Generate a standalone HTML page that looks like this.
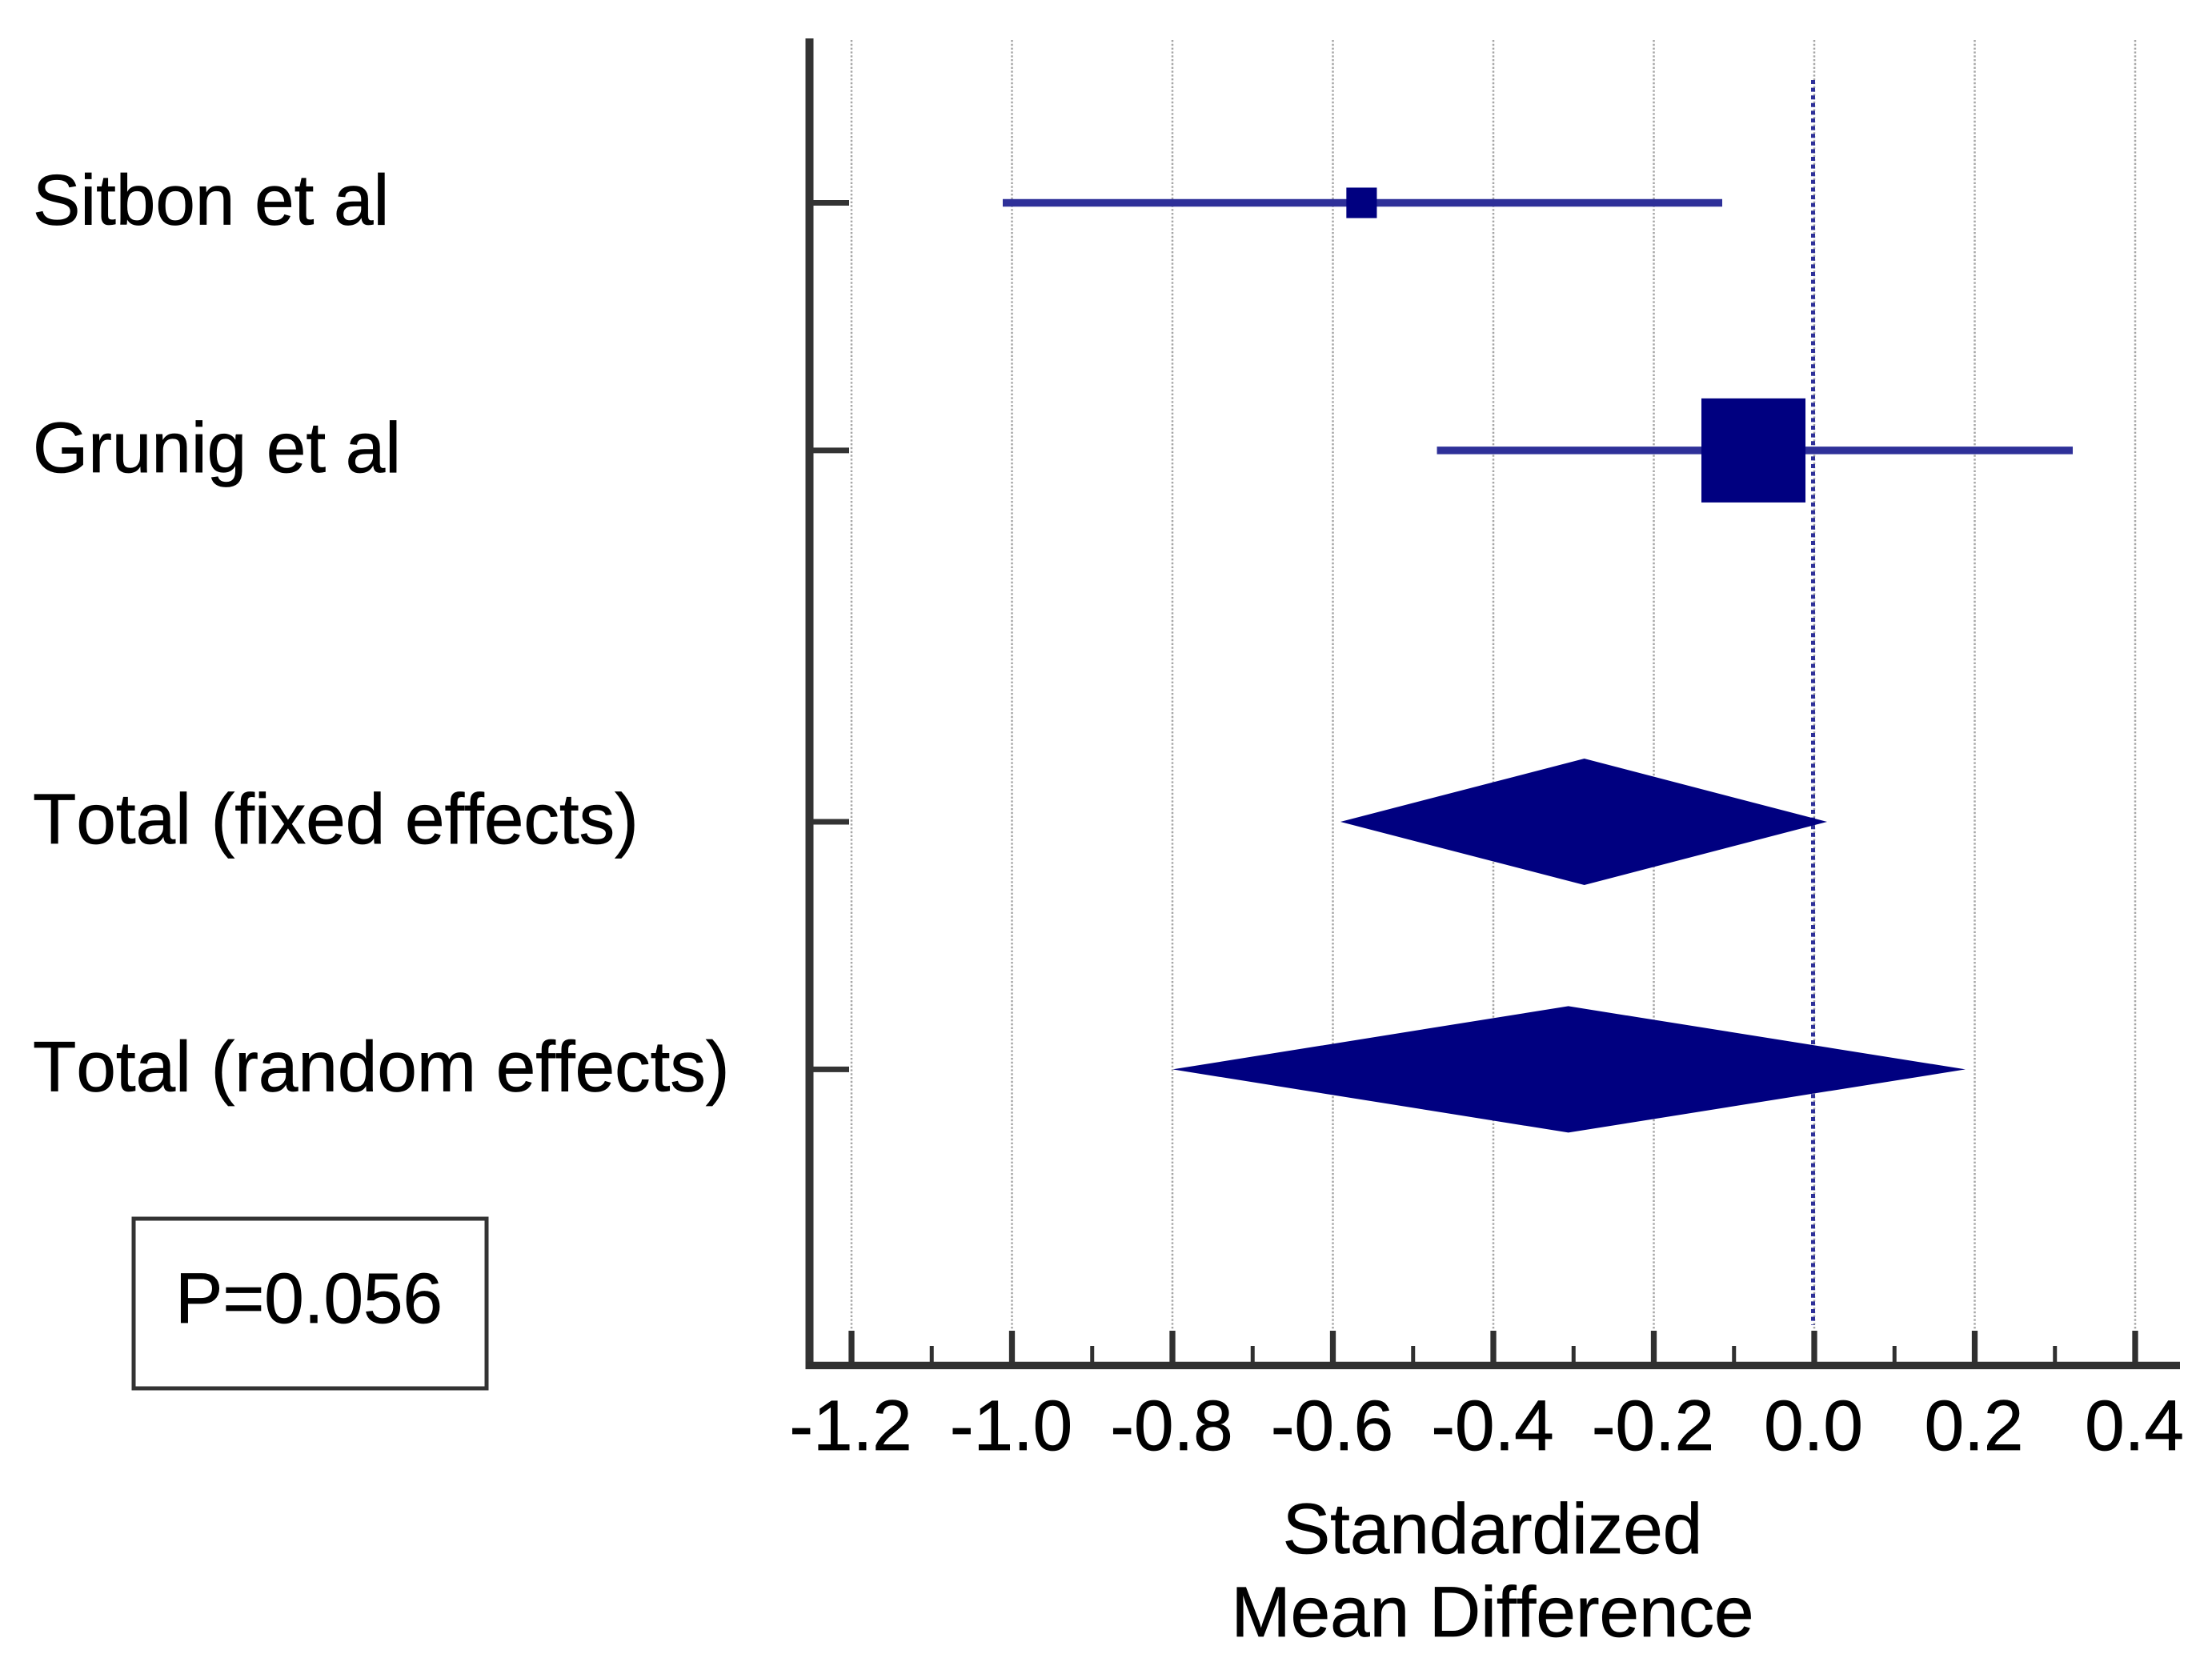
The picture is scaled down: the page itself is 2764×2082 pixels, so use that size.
<!DOCTYPE html>
<html lang="en">
<head>
<meta charset="utf-8">
<title>Forest plot of standardized mean difference</title>
<style>
  html, body { margin: 0; padding: 0; background: #ffffff; }
  body { width: 2764px; height: 2082px; overflow: hidden; }
  svg { display: block; }
  text { font-family: "Liberation Sans", sans-serif; fill: #000000; stroke: #000000; stroke-width: 0.7px; font-size: 89px; font-kerning: none; }
</style>
</head>
<body>
<svg id="chart" xmlns="http://www.w3.org/2000/svg" width="2764" height="2082" viewBox="0 0 2764 2082">
  <rect x="0" y="0" width="2764" height="2082" fill="#ffffff"></rect>
  <g id="grid"></g>
  <g id="marks"></g>
  <g id="axes"></g>
  <g id="labels"></g>
  <g>
    <text x="1865" y="1941" text-anchor="middle">Standardized</text>
    <text x="1865" y="2045" text-anchor="middle">Mean Difference</text>
  </g>
  <g>
    <rect x="167" y="1523" width="441" height="212" fill="#ffffff" stroke="#333333" stroke-width="5"></rect>
    <text x="386" y="1653" text-anchor="middle">P=0.056</text>
  </g>
</svg>
<script>
// Chart data
const studyNames = ["Sitbon et al", "Grunig et al"];
const studyRows = [0, 1];
const studyEffects = [-0.5642, -0.0758];
const studyLower = [-1.0115, -0.4703];
const studyUpper = [-0.1147, 0.3222];
const studyWeights = [7.9, 92.1];

const summaryNames = ["Total (fixed effects)", "Total (random effects)"];
const summaryRows = [2.5, 3.5];
const summaryEffects = [-0.2866, -0.3065];
const summaryLower = [-0.5906, -0.7998];
const summaryUpper = [0.016, 0.1885];

const majorTicks = [-1.2, -1.0, -0.8, -0.6, -0.4, -0.2, 0.0, 0.2, 0.4];
const minorTicks = [-1.1, -0.9, -0.7, -0.5, -0.3, -0.1, 0.1, 0.3];
const tickLabels = ["-1.2", "-1.0", "-0.8", "-0.6", "-0.4", "-0.2", "0.0", "0.2", "0.4"];

// Axis functions
function xScale(v) { return 2267 + 1002.5 * v; }
function yScale(r) { return 253.5 + 309.4 * r; }
function squareSide(w) { return 13.55 * Math.sqrt(w); }

const NS = "http://www.w3.org/2000/svg";
const gridLayer = document.getElementById("grid");
const marksLayer = document.getElementById("marks");
const axesLayer = document.getElementById("axes");
const labelsLayer = document.getElementById("labels");

function makeLine(parent, x1, y1, x2, y2, color, width, dash) {
  const el = document.createElementNS(NS, "line");
  el.setAttribute("x1", x1);
  el.setAttribute("y1", y1);
  el.setAttribute("x2", x2);
  el.setAttribute("y2", y2);
  el.setAttribute("stroke", color);
  el.setAttribute("stroke-width", width);
  if (dash) el.setAttribute("stroke-dasharray", dash);
  parent.appendChild(el);
  return el;
}

function makeText(parent, x, y, str, anchor) {
  const el = document.createElementNS(NS, "text");
  el.setAttribute("x", x);
  el.setAttribute("y", y);
  el.setAttribute("text-anchor", anchor);
  el.textContent = str;
  parent.appendChild(el);
  return el;
}

// Gridlines
majorTicks.forEach(function (v) {
  const g = makeLine(gridLayer, xScale(v), 50, xScale(v), 1661, "#a6a6a6", 2.5, "2.4 2.4");
  
  
});

// Zero reference line
const zeroLine = makeLine(gridLayer, xScale(0) - 1.5, 100, xScale(0) - 1.5, 1656, "#2e3099", 5, "5 4.6");



// Study confidence intervals and squares
studyNames.forEach(function (name, i) {
  const y = yScale(studyRows[i]);
  const ci = makeLine(marksLayer, xScale(studyLower[i]), y, xScale(studyUpper[i]), y, "#2e3099", 9.5);
  
  
  const side = squareSide(studyWeights[i]);
  const sq = document.createElementNS(NS, "rect");
  sq.setAttribute("x", xScale(studyEffects[i]) - side / 2);
  sq.setAttribute("y", y - side / 2);
  sq.setAttribute("width", side);
  sq.setAttribute("height", side);
  sq.setAttribute("fill", "#000080");
  
  
  marksLayer.appendChild(sq);
});

// Summary diamonds
summaryNames.forEach(function (name, i) {
  const y = yScale(summaryRows[i]);
  const halfHeight = 79;
  const cx = xScale(summaryEffects[i]);
  const d = document.createElementNS(NS, "polygon");
  d.setAttribute("points",
    xScale(summaryLower[i]) + "," + y + " " +
    cx + "," + (y - halfHeight) + " " +
    xScale(summaryUpper[i]) + "," + y + " " +
    cx + "," + (y + halfHeight));
  d.setAttribute("fill", "#000080");
  
  
  marksLayer.appendChild(d);
});

// Axis lines
const yAxis = makeLine(axesLayer, 1011.5, 48, 1011.5, 1711, "#333333", 10);


const xAxis = makeLine(axesLayer, 1006.5, 1706.4, 2724, 1706.4, "#303030", 9.4);



// X ticks and tick labels
majorTicks.forEach(function (v, i) {
  const t = makeLine(axesLayer, xScale(v), 1663, xScale(v), 1704, "#303030", 7.3);
  
  
  const lab = makeText(labelsLayer, xScale(v) - 1, 1812, tickLabels[i], "middle");
  
  
});
minorTicks.forEach(function (v) {
  const t = makeLine(axesLayer, xScale(v), 1682, xScale(v), 1704, "#303030", 5);
  
  
});

// Row ticks and row labels
studyNames.forEach(function (name, i) {
  const y = yScale(studyRows[i]);
  const t = makeLine(axesLayer, 1014, y, 1061, y, "#333333", 7);
  
  
  const lab = makeText(labelsLayer, 41, y + 27, name, "start");
  
  
});
summaryNames.forEach(function (name, i) {
  const y = yScale(summaryRows[i]);
  const t = makeLine(axesLayer, 1014, y, 1061, y, "#333333", 7);
  
  
  const lab = makeText(labelsLayer, 41, y + 27, name, "start");
  
  
});
</script>
</body>
</html>
